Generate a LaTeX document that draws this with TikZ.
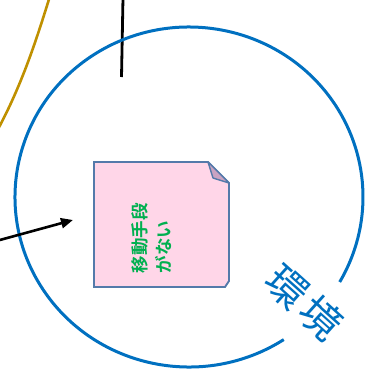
\documentclass[tikz,border=0pt]{standalone}
\usepackage{fontspec}
\newfontfamily\jp{Noto Sans CJK JP}
\newfontfamily\jpb{Noto Sans CJK JP Bold}
\usetikzlibrary{arrows.meta}
\definecolor{ringblue}{RGB}{0,112,192}
\definecolor{gold}{RGB}{191,144,0}
\definecolor{noteedge}{RGB}{84,122,170}
\definecolor{notefill}{RGB}{255,214,232}
\definecolor{foldfill}{RGB}{201,163,194}
\definecolor{notegreen}{RGB}{0,176,80}
\tikzset{
  ring/.style={draw=ringblue, line width=3pt},
  goldline/.style={draw=gold, line width=2.6pt},
  blackline/.style={draw=black, line width=2.8pt},
  arrowline/.style={draw=black, line width=2.6pt, -{Triangle[length=12pt,width=10pt]}},
  note/.style={draw=noteedge, fill=notefill, line width=1.9pt, line join=miter},
  fold/.style={draw=noteedge, fill=foldfill, line width=1.4pt, line join=round},
  notetext/.style={font=\jpb\fontsize{17.5}{24}\selectfont, text=notegreen, rotate=90, anchor=north west, inner sep=0pt, align=left},
  ringtext/.style={font=\jp\fontsize{41}{44}\selectfont, text=ringblue, rotate=-42, inner sep=0pt}
}
\begin{document}
\begin{tikzpicture}[x=1pt,y=-1pt]
\useasboundingbox (0,0) rectangle (366,383);
% gold curve
\draw[goldline] (50,-4) .. controls (37,38) and (22,85) .. (-3,131);
% black vertical line
\coordinate (vtop) at (123,-2);
\coordinate (vbot) at (121.5,77);
\draw[blackline] (vtop) -- (vbot);
% ring with gap
\draw[ring] (189,197) ++(57:174 and 170) arc[start angle=57, end angle=390, x radius=174, y radius=170];
% arrow
\coordinate (astart) at (-2,240.5);
\coordinate (aend) at (73,220);
\draw[arrowline] (astart) -- (aend);
% sticky note
\draw[note] (94,162) -- (208,162) -- (229,183) -- (229,281) -- (225,287) -- (94,287) -- cycle;
\draw[fold] (208,162) -- (213,178) -- (229,183) -- cycle;
\node[notetext] (notelabel) at (131,273.5) {移動手段\\がない};
% ring label
\node[ringtext] (ringlabel) at (304,302.5) {環\hspace{5pt}境};
\end{tikzpicture}
\end{document}
